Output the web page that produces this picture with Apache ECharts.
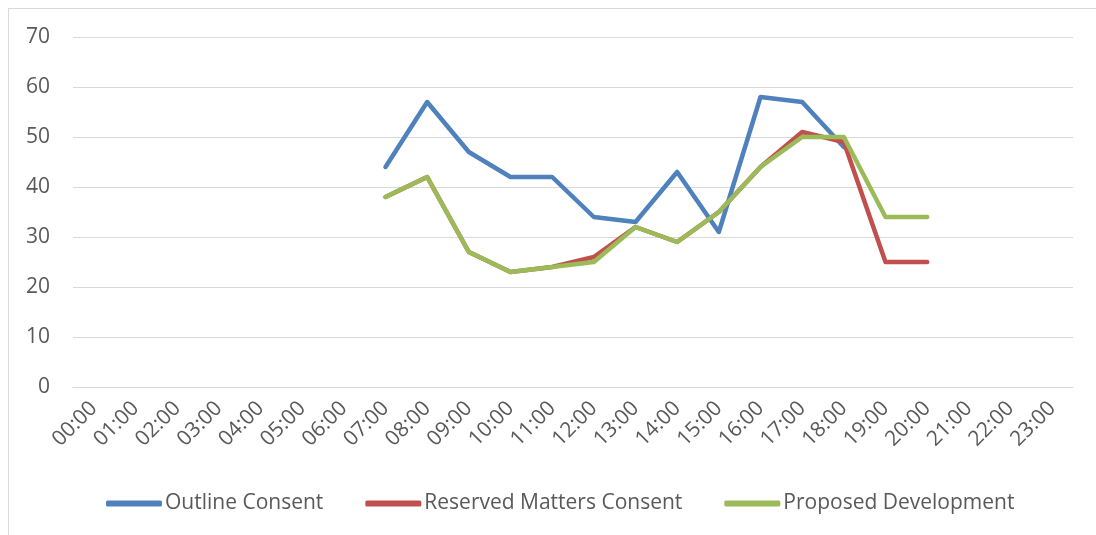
<!DOCTYPE html>
<html>
<head>
<meta charset="utf-8">
<script src="https://cdn.jsdelivr.net/npm/echarts@6/dist/echarts.min.js"></script>
<style>
  html, body { margin: 0; padding: 0; background: #fff; }
  #frame {
    position: absolute; left: 8px; top: 8px; width: 1100px; height: 540px;
    border-top: 1px solid #d9d9d9; border-left: 1px solid #d9d9d9;
  }
  #main { position: absolute; left: 0; top: 0; width: 1096px; height: 535px; }
</style>
</head>
<body>
<div id="frame"></div>
<div id="main"></div>
<script>
  var hours = ['00:00', '01:00', '02:00', '03:00', '04:00', '05:00', '06:00', '07:00',
    '08:00', '09:00', '10:00', '11:00', '12:00', '13:00', '14:00', '15:00',
    '16:00', '17:00', '18:00', '19:00', '20:00', '21:00', '22:00', '23:00']

  var outlineConsent = [null, null, null, null, null, null, null, 44,
    57, 47, 42, 42, 34, 33, 43, 31,
    58, 57, 48, null, null, null, null, null]

  var reservedMatters = [null, null, null, null, null, null, null, 38,
    42, 27, 23, 24, 26, 32, 29, 35,
    44, 51, 49, 25, 25, null, null, null]

  var proposedDev = [null, null, null, null, null, null, null, 38,
    42, 27, 23, 24, 25, 32, 29, 35,
    44, 50, 50, 34, 34, null, null, null]

  var myChart = echarts.init(document.getElementById('main'))

  var font = "'Open Sans', 'Noto Sans', sans-serif"

  function lineSeries(name, color, data) {
    return {
      name: name,
      type: 'line',
      symbol: 'none', // no point markers
      connectNulls: false,
      data: data,
      lineStyle: { color: color, width: 4.5, cap: 'round', join: 'round' },
      itemStyle: { color: color },
    }
  }

  var option = {
    animation: false,
    backgroundColor: 'transparent',
    textStyle: { fontFamily: font },
    grid: {
      left: 73,
      right: 23,
      top: 37,
      bottom: 148,
    },
    legend: {
      top: 488,
      left: 101,
      icon: 'roundRect',
      itemWidth: 56,
      itemHeight: 6,
      itemGap: 42,
      textStyle: { color: '#595959', fontSize: 21, fontFamily: font, padding: [0, 0, 0, -2] },
      data: ['Outline Consent', 'Reserved Matters Consent', 'Proposed Development'],
    },
    xAxis: {
      type: 'category',
      boundaryGap: true,
      data: hours,
      axisLine: { show: true, lineStyle: { color: '#d9d9d9', width: 1 } },
      axisTick: { show: false },
      axisLabel: {
        rotate: 45,
        color: '#595959',
        fontSize: 21,
        fontFamily: font,
        interval: 0,
        margin: 18,
      },
    },
    yAxis: {
      type: 'value',
      min: 0,
      max: 70,
      interval: 10,
      axisLine: { show: false },
      axisTick: { show: false },
      axisLabel: { color: '#595959', fontSize: 21, fontFamily: font, margin: 23 },
      splitLine: { lineStyle: { color: '#d9d9d9', width: 1 } },
    },
    series: [
      lineSeries('Outline Consent', '#4F81BD', outlineConsent),
      lineSeries('Reserved Matters Consent', '#C0504D', reservedMatters),
      lineSeries('Proposed Development', '#9BBB59', proposedDev),
    ],
  }

  myChart.setOption(option)
</script>
</body>
</html>
